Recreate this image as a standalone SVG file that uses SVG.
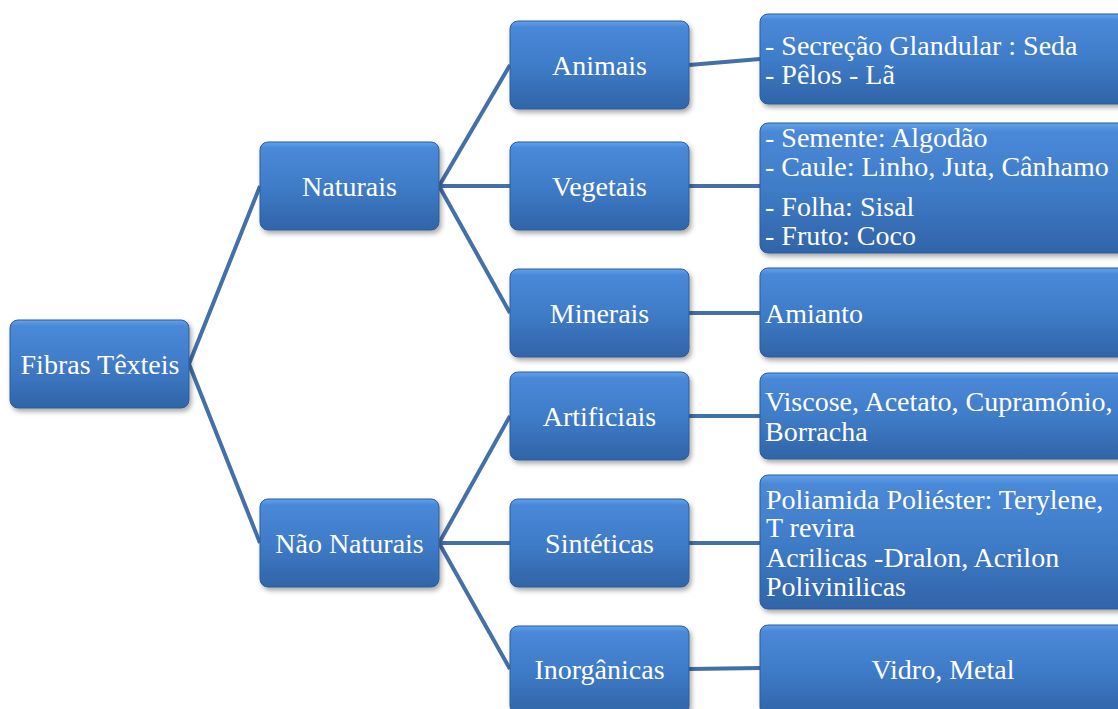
<svg xmlns="http://www.w3.org/2000/svg" width="1118" height="709" viewBox="0 0 1118 709">
<defs>
<linearGradient id="g" x1="0" y1="0" x2="0" y2="1">
<stop offset="0" stop-color="#62a2ec"/>
<stop offset="0.07" stop-color="#4a88d8"/>
<stop offset="0.5" stop-color="#3f7cc8"/>
<stop offset="1" stop-color="#3164a8"/>
</linearGradient>
<filter id="sh" x="-10%" y="-10%" width="130%" height="140%">
<feDropShadow dx="2" dy="3" stdDeviation="2.5" flood-color="#000" flood-opacity="0.35"/>
</filter>
</defs>
<style>
.b{fill:url(#g);stroke:#2f5c96;stroke-width:1;filter:url(#sh)}
.c{text-anchor:middle}
.ln{stroke:#4470a8;stroke-width:4;fill:none}
text{font-family:'Liberation Serif','Times New Roman',serif;font-size:28px;fill:#ffffff}
</style>
<g id="connectors">
<line class="ln" x1="189" y1="364" x2="260" y2="186"/>
<line class="ln" x1="189" y1="364" x2="260" y2="543"/>
<line class="ln" x1="439" y1="186" x2="510" y2="65"/>
<line class="ln" x1="439" y1="186" x2="510" y2="186"/>
<line class="ln" x1="439" y1="186" x2="510" y2="313"/>
<line class="ln" x1="439" y1="543" x2="510" y2="416"/>
<line class="ln" x1="439" y1="543" x2="510" y2="543"/>
<line class="ln" x1="439" y1="543" x2="510" y2="669"/>
<line class="ln" x1="689" y1="65" x2="760" y2="59"/>
<line class="ln" x1="689" y1="186" x2="760" y2="186"/>
<line class="ln" x1="689" y1="313" x2="760" y2="313"/>
<line class="ln" x1="689" y1="416" x2="760" y2="416"/>
<line class="ln" x1="689" y1="543" x2="760" y2="543"/>
<line class="ln" x1="689" y1="669" x2="760" y2="668"/>
</g>
<g id="fibras"><rect class="b" x="10" y="320" width="179" height="88" rx="8"/><text class="c" x="100" y="374">Fibras Têxteis</text></g>
<g id="naturais"><rect class="b" x="260" y="142" width="179" height="88" rx="8"/><text class="c" x="349.5" y="196">Naturais</text></g>
<g id="nao-naturais"><rect class="b" x="260" y="499" width="179" height="88" rx="8"/><text class="c" x="349.5" y="553">Não Naturais</text></g>
<g id="animais"><rect class="b" x="510" y="21" width="179" height="88" rx="8"/><text class="c" x="599.5" y="75">Animais</text></g>
<g id="vegetais"><rect class="b" x="510" y="142" width="179" height="88" rx="8"/><text class="c" x="599.5" y="196">Vegetais</text></g>
<g id="minerais"><rect class="b" x="510" y="269" width="179" height="88" rx="8"/><text class="c" x="599.5" y="323">Minerais</text></g>
<g id="artificiais"><rect class="b" x="510" y="372" width="179" height="88" rx="8"/><text class="c" x="599.5" y="426">Artificiais</text></g>
<g id="sinteticas"><rect class="b" x="510" y="499" width="179" height="88" rx="8"/><text class="c" x="599.5" y="553">Sintéticas</text></g>
<g id="inorganicas"><rect class="b" x="510" y="626" width="179" height="88" rx="8"/><text class="c" x="599.5" y="679">Inorgânicas</text></g>
<g id="leaf-animais"><rect class="b" x="760" y="14" width="372" height="90" rx="8"/><text x="765" y="55">- Secreção Glandular : Seda</text><text x="765" y="84">- Pêlos - Lã</text></g>
<g id="leaf-vegetais"><rect class="b" x="760" y="123" width="372" height="130" rx="8"/><text x="765" y="147">- Semente: Algodão</text><text x="765" y="176">- Caule: Linho, Juta, Cânhamo</text><text x="765" y="216">- Folha: Sisal</text><text x="765" y="245">- Fruto: Coco</text></g>
<g id="leaf-minerais"><rect class="b" x="760" y="268" width="372" height="89" rx="8"/><text x="765" y="323">Amianto</text></g>
<g id="leaf-artificiais"><rect class="b" x="760" y="373" width="372" height="86" rx="8"/><text x="765" y="411">Viscose, Acetato, Cupramónio,</text><text x="765" y="441">Borracha</text></g>
<g id="leaf-sinteticas"><rect class="b" x="760" y="475" width="372" height="134" rx="8"/><text x="766" y="509">Poliamida Poliéster: Terylene,</text><text x="766" y="537">T revira</text><text x="766" y="567">Acrilicas -Dralon, Acrilon</text><text x="766" y="596">Polivinilicas</text></g>
<g id="leaf-inorganicas"><rect class="b" x="760" y="625" width="372" height="90" rx="8"/><text class="c" x="943" y="679">Vidro, Metal</text></g>
</svg>
